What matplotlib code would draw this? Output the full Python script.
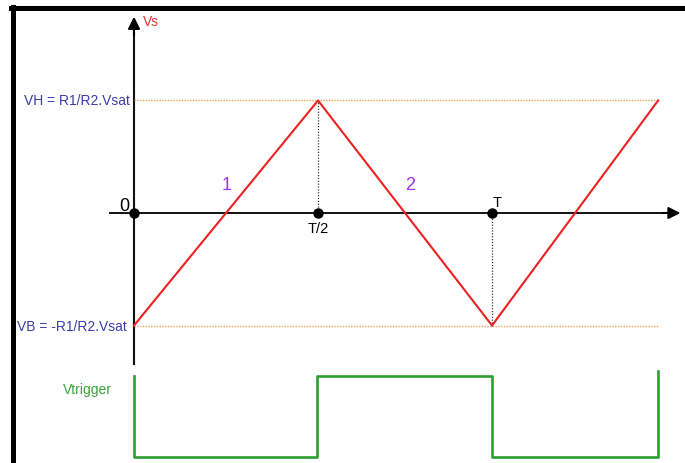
import numpy as np
import matplotlib; matplotlib.use("Agg")
import matplotlib.pyplot as plt
from matplotlib.lines import Line2D

plt.rcParams['font.family'] = ['Liberation Sans', 'DejaVu Sans']

# triangle wave Vs (time in units of T, voltage in units of R1/R2.Vsat)
t_vs = [0.0, 0.514, 1.0, 1.464]
v_vs = [-1.0, 1.0, -1.0, 1.0]

# trigger square wave (levels in the same y units, drawn below the Vs axis)
t_trig = [0.0, 0.0, 0.51, 0.51, 1.0, 1.0, 1.464, 1.464]
v_trig = [-1.45, -2.17, -2.17, -1.45, -1.45, -2.17, -2.17, -1.40]

# marked points on the time axis
t_marks = [0.0, 0.514, 1.0]
mark_labels = ["0", "T/2", "T"]

vh, vb = 1.0, -1.0

fig = plt.figure(figsize=(6.85, 4.64), dpi=100)
ax = fig.add_axes([0, 0, 1, 1])
ax.set_xlim(-0.3743, 1.539)
ax.set_ylim(-2.222, 1.902)
ax.axis("off")

# frame (top and left only)
fig.add_artist(Line2D([0.016, 1.0], [0.980, 0.980], transform=fig.transFigure, color="black", lw=3.6))
fig.add_artist(Line2D([0.0185, 0.0185], [0.0, 0.983], transform=fig.transFigure, color="black", lw=3.6))

# axes with arrows
ax.plot([0, 0], [-1.342, 1.6], color="#111111", lw=1.5)
ax.annotate("", xy=(0, 1.77), xytext=(0, 1.55),
            arrowprops=dict(arrowstyle="-|>", color="black", lw=1.5, mutation_scale=18))
ax.plot([-0.067, 1.49], [0, 0], color="#111111", lw=1.4)
ax.annotate("", xy=(1.534, 0), xytext=(1.47, 0),
            arrowprops=dict(arrowstyle="-|>", color="black", lw=1.4, mutation_scale=18))

# VH / VB guide lines
ax.plot([0, t_vs[-1]], [vh, vh], color="#f0a050", lw=1.0, ls=(0, (1, 1)))
ax.plot([0, t_vs[-1]], [vb, vb], color="#f0a050", lw=1.0, ls=(0, (1, 1)))

# vertical dotted drops
ax.plot([t_vs[1], t_vs[1]], [0, vh], color="#333333", lw=0.9, ls=(0, (1, 1.3)))
ax.plot([t_vs[2], t_vs[2]], [vb, 0], color="#333333", lw=0.9, ls=(0, (1, 1.3)))

# triangle wave
ax.plot(t_vs, v_vs, color="#ee2020", lw=1.5)

# trigger
ax.plot(t_trig, v_trig, color="#2e9e2e", lw=1.9)

# marks on time axis
ax.plot(t_marks, [0] * len(t_marks), "o", color="black", ms=6.5, zorder=5)

blue = "#3c3ca8"
ax.text(-0.011, vh, "VH = R1/R2.Vsat", color=blue, fontsize=10, ha="right", va="center")
ax.text(-0.021, vb, "VB = -R1/R2.Vsat", color=blue, fontsize=10, ha="right", va="center")
ax.text(0.025, 1.71, "Vs", color="#e83030", fontsize=10, ha="left", va="center")
ax.text(-0.028, 0.07, mark_labels[0], fontsize=13, ha="center", va="center")
ax.text(t_marks[1], -0.13, mark_labels[1], fontsize=10.5, ha="center", va="center")
ax.text(t_marks[2] + 0.014, 0.1, mark_labels[2], fontsize=10.5, ha="center", va="center")
ax.text(0.26, 0.25, "1", color="#9a35f0", fontsize=13, ha="center", va="center")
ax.text(0.77, 0.25, "2", color="#9a35f0", fontsize=13, ha="center", va="center")
ax.text(-0.131, -1.567, "Vtrigger", color="#3aa03a", fontsize=10, ha="center", va="center")

fig.savefig("out.png", dpi=100)
